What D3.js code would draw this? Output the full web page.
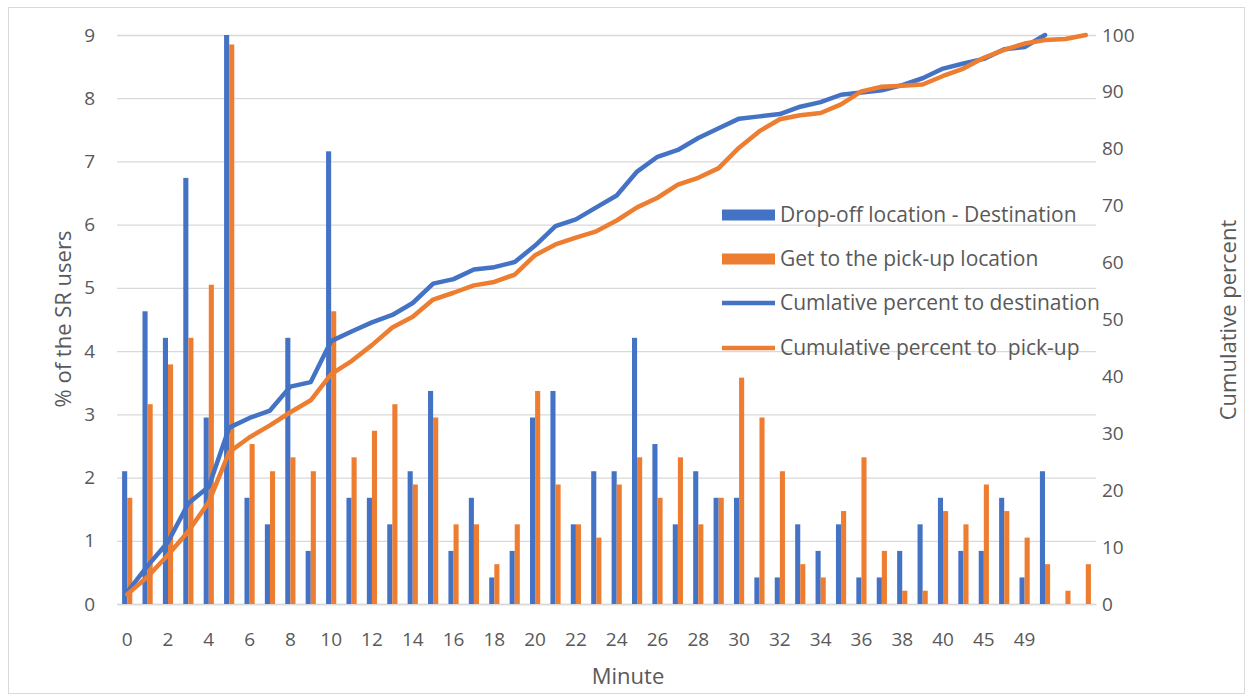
<!DOCTYPE html>
<html>
<head>
<meta charset="utf-8">
<script src="https://cdn.jsdelivr.net/npm/d3@7"></script>
<style>
  html, body { margin: 0; padding: 0; background: #fff; }
  svg { display: block; font-family: "Open Sans", Lato, sans-serif; }
  text { white-space: pre; }
</style>
</head>
<body>
<svg id="chart" width="1250" height="695"></svg>
<script>
// ---- data ----
const minuteLabels = ["0","1","2","3","4","5","6","7","8","9","10","11","12","13","14","15","16","17","18","19","20",
  "21","22","23","24","25","26","27","28","29","30","31","32","33","34","35","36","37","38","39","40",
  "42","45","47","49","50","",""];
const dropoff = [2.1, 4.63, 4.21, 6.74, 2.95, 10.4, 1.68, 1.26, 4.21, 0.84, 7.16, 1.68, 1.68, 1.26, 2.1, 3.37,
  0.84, 1.68, 0.42, 0.84, 2.95, 3.37, 1.26, 2.1, 2.1, 4.21, 2.53, 1.26, 2.1, 1.68, 1.68, 0.42, 0.42, 1.26,
  0.84, 1.26, 0.42, 0.42, 0.84, 1.26, 1.68, 0.84, 0.84, 1.68, 0.42, 2.1, null, null];
const pickup = [1.68, 3.16, 3.79, 4.21, 5.05, 8.85, 2.53, 2.1, 2.32, 2.1, 4.63, 2.32, 2.74, 3.16, 1.89, 2.95,
  1.26, 1.26, 0.63, 1.26, 3.37, 1.89, 1.26, 1.05, 1.89, 2.32, 1.68, 2.32, 1.26, 1.68, 3.58, 2.95, 2.1, 0.63,
  0.42, 1.47, 2.32, 0.84, 0.21, 0.21, 1.47, 1.26, 1.89, 1.47, 1.05, 0.63, 0.21, 0.63];
const cumDest = [2.1, 6.7, 10.9, 17.7, 20.6, 31.0, 32.7, 34.0, 38.2, 39.0, 46.2, 47.9, 49.5, 50.8, 52.9, 56.3,
  57.1, 58.8, 59.2, 60.1, 63.0, 66.4, 67.6, 69.7, 71.8, 76.0, 78.6, 79.8, 81.9, 83.6, 85.3, 85.7, 86.1, 87.4,
  88.2, 89.5, 89.9, 90.3, 91.2, 92.4, 94.1, 95.0, 95.8, 97.5, 97.9, 100.0];
const cumPick = [1.7, 4.8, 8.6, 12.8, 17.9, 26.7, 29.3, 31.4, 33.7, 35.8, 40.4, 42.7, 45.5, 48.6, 50.5, 53.5,
  54.7, 56.0, 56.6, 57.9, 61.3, 63.2, 64.4, 65.5, 67.4, 69.7, 71.4, 73.7, 74.9, 76.6, 80.2, 83.1, 85.2, 85.9,
  86.3, 87.8, 90.1, 90.9, 91.1, 91.3, 92.8, 94.1, 96.0, 97.4, 98.5, 99.1, 99.3, 100.0];
const leftTicks = [0,1,2,3,4,5,6,7,8,9];
const rightTicks = [0,10,20,30,40,50,60,70,80,90,100];
const seriesNames = ["Drop-off location - Destination", "Get to the pick-up location",
  "Cumlative percent to destination", "Cumulative percent to  pick-up"];

// ---- styling ----
const BLUE = "#4472C4", ORANGE = "#ED7D31", GRID = "#d9d9d9", TXT = "#595959";
const FONT = "Open Sans";
const plotL = 117, plotR = 1096, plotT = 35, plotB = 604;

const svg = d3.select("#chart");
svg.append("rect").attr("x", 8.5).attr("y", 7.5).attr("width", 1236).attr("height", 686)
  .attr("fill", "#fff").attr("stroke", GRID).attr("stroke-width", 1);

const idx = d3.range(minuteLabels.length);
const x = d3.scaleBand().domain(idx).range([plotL, plotR]).padding(0);
const yL = d3.scaleLinear().domain([0, 9]).range([plotB, plotT]).clamp(true);
const yR = d3.scaleLinear().domain([0, 100]).range([plotB, plotT]);
const bw = x.bandwidth() * 0.25;
const cx = i => x(i) + x.bandwidth() / 2;

// gridlines
const gridAxis = d3.axisLeft(yL).tickValues(leftTicks).tickSize(-(plotR - plotL)).tickFormat("");
const gg = svg.append("g").attr("transform", `translate(${plotL},0)`).call(gridAxis);
gg.select(".domain").remove();
gg.selectAll("line").attr("stroke", GRID).attr("stroke-width", 1.3);

// left axis labels
const la = svg.append("g").attr("transform", `translate(${plotL},0)`)
  .call(d3.axisLeft(yL).tickValues(leftTicks).tickSize(0).tickPadding(22));
la.select(".domain").remove();
la.selectAll("text").attr("fill", TXT).style("font-size", "19px").style("font-family", FONT);

// right axis labels
const ra = svg.append("g").attr("transform", `translate(${plotR},0)`)
  .call(d3.axisRight(yR).tickValues(rightTicks).tickSize(0).tickPadding(6));
ra.select(".domain").remove();
ra.selectAll("text").attr("fill", TXT).style("font-size", "19px").style("font-family", FONT);

// x axis
const xa = svg.append("g").attr("transform", `translate(0,${plotB})`)
  .call(d3.axisBottom(x).tickSize(0).tickPadding(29)
    .tickFormat(i => (i % 2 === 0 ? minuteLabels[i] : "")));
xa.select(".domain").attr("stroke", GRID).attr("stroke-width", 1.3);
xa.selectAll("text").attr("fill", TXT).style("font-size", "19px").style("font-family", FONT);

// bars
svg.append("g").selectAll("rect").data(idx.filter(i => dropoff[i] != null)).join("rect")
  .attr("x", i => cx(i) - bw).attr("width", bw)
  .attr("y", i => yL(dropoff[i])).attr("height", i => plotB - yL(dropoff[i]))
  .attr("fill", BLUE);
svg.append("g").selectAll("rect").data(idx.filter(i => pickup[i] != null)).join("rect")
  .attr("x", i => cx(i)).attr("width", bw)
  .attr("y", i => yL(pickup[i])).attr("height", i => plotB - yL(pickup[i]))
  .attr("fill", ORANGE);

// lines
const line = d3.line().x(d => cx(d[0])).y(d => yR(d[1]));
svg.append("path").datum(cumDest.map((v, i) => [i, v])).attr("d", line)
  .attr("fill", "none").attr("stroke", BLUE).attr("stroke-width", 4.5)
  .attr("stroke-linejoin", "round").attr("stroke-linecap", "round");
svg.append("path").datum(cumPick.map((v, i) => [i, v])).attr("d", line)
  .attr("fill", "none").attr("stroke", ORANGE).attr("stroke-width", 4.5)
  .attr("stroke-linejoin", "round").attr("stroke-linecap", "round");

// axis titles
svg.append("text").attr("transform", "translate(71,319) rotate(-90)")
  .attr("text-anchor", "middle").attr("fill", TXT).style("font-size", "22px").text("% of the SR users");
svg.append("text").attr("transform", "translate(1236,320) rotate(-90)")
  .attr("text-anchor", "middle").attr("fill", TXT).style("font-size", "22px").text("Cumulative percent");
svg.append("text").attr("x", 628).attr("y", 684)
  .attr("text-anchor", "middle").attr("fill", TXT).style("font-size", "22px").text("Minute");

// legend
const legY = [215, 259, 303, 348];
const leg = svg.append("g");
seriesNames.forEach((name, k) => {
  const color = k % 2 === 0 ? BLUE : ORANGE;
  if (k < 2) {
    leg.append("rect").attr("x", 722).attr("y", legY[k] - 5.5).attr("width", 53).attr("height", 11).attr("fill", color);
  } else {
    leg.append("line").attr("x1", 722).attr("x2", 775).attr("y1", legY[k]).attr("y2", legY[k])
      .attr("stroke", color).attr("stroke-width", 4.5);
  }
  leg.append("text").attr("x", 780).attr("y", legY[k]).attr("dy", "0.35em")
    .attr("fill", TXT).style("font-size", "21px").text(name);
});
</script>
</body>
</html>
